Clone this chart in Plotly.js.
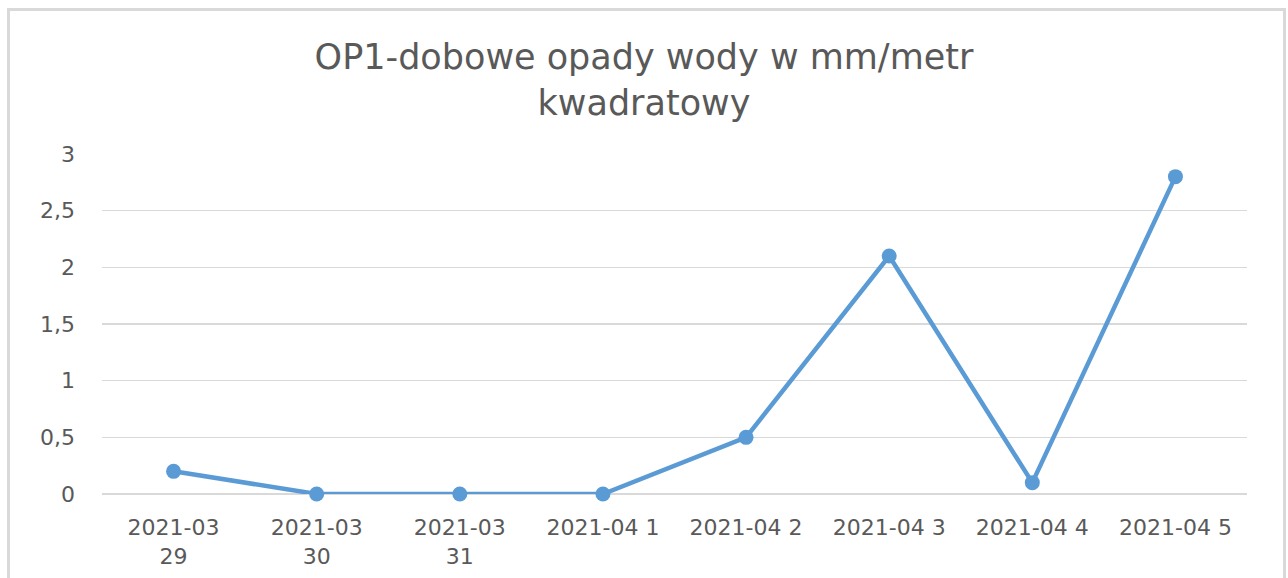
<!DOCTYPE html>
<html>
<head>
<meta charset="utf-8">
<script src="https://cdn.plot.ly/plotly-3.0.1.min.js"></script>
<style>
  html, body { margin: 0; padding: 0; background: #ffffff; overflow: hidden; }
  #chart { position: absolute; left: 0; top: 0; width: 1288px; height: 578px; }
  #frame { position: absolute; left: 7px; top: 8px; width: 1273px; height: 600px;
           border: 3px solid #d9d9d9; border-bottom: none; pointer-events: none; }
</style>
</head>
<body>
<div id="chart"></div>
<div id="frame"></div>
<script>
const categories = [
  "2021-03<br>29", "2021-03<br>30", "2021-03<br>31", "2021-04 1",
  "2021-04 2", "2021-04 3", "2021-04 4", "2021-04 5"
];
const rainfall = [0.2, 0, 0, 0, 0.5, 2.1, 0.1, 2.8];
const yTickVals = [0, 0.5, 1, 1.5, 2, 2.5, 3];
const yTickText = ["0", "0,5", "1", "1,5", "2", "2,5", "3"];
const chartTitle = "OP1-dobowe opady wody w mm/metr<br>kwadratowy";

const textColor = "#595959";
const font = "DejaVu Sans, Open Sans, sans-serif";

const trace = {
  type: "scatter",
  mode: "lines+markers",
  x: categories,
  y: rainfall,
  cliponaxis: false,
  line: { color: "#5B9BD5", width: 4.5 },
  marker: { color: "#5B9BD5", size: 15 },
  hoverinfo: "skip"
};

const layout = {
  width: 1288,
  height: 578,
  margin: { l: 102, r: 41, t: 154, b: 84 },
  paper_bgcolor: "#ffffff",
  plot_bgcolor: "#ffffff",
  showlegend: false,
  font: { family: font, color: textColor, size: 22 },
  title: {
    text: chartTitle,
    font: { family: font, size: 35, color: textColor },
    x: 0.5, xanchor: "center", xref: "container",
    y: 0.88, yanchor: "middle", yref: "container"
  },
  xaxis: {
    type: "category",
    range: [-0.5, 7.5],
    showgrid: false,
    showline: false,
    zeroline: false,
    ticks: "",
    tickangle: 0,
    ticklabelstandoff: 18,
    tickfont: { family: font, size: 22, color: textColor },
    fixedrange: true
  },
  yaxis: {
    range: [0, 3],
    tickvals: yTickVals,
    ticktext: yTickText,
    showgrid: true,
    gridcolor: "#d9d9d9",
    gridwidth: 1.3,
    zeroline: true,
    zerolinecolor: "#d9d9d9",
    zerolinewidth: 1.3,
    showline: false,
    ticks: "",
    ticklabelstandoff: 26,
    tickfont: { family: font, size: 22, color: textColor },
    fixedrange: true
  }
};

Plotly.newPlot("chart", [trace], layout, { displayModeBar: false, staticPlot: true });
</script>
</body>
</html>
